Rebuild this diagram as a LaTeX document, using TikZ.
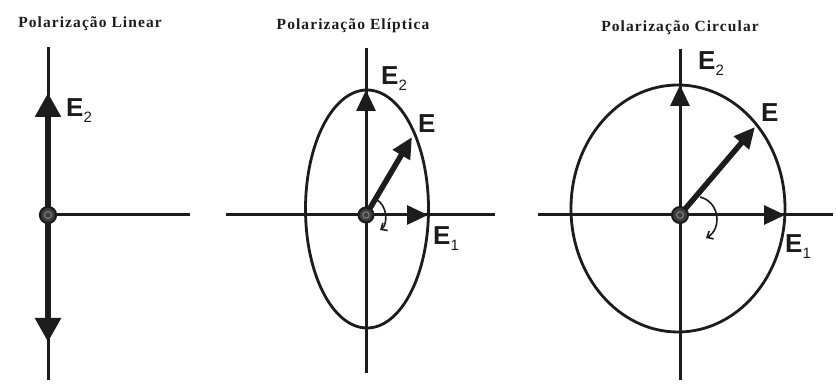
\documentclass[tikz,border=0pt]{standalone}
\usepackage{fontspec}
\usetikzlibrary{arrows.meta}
\newfontfamily\titlefont[LetterSpace=7]{Liberation Serif}
\newfontfamily\labelfont{Liberation Sans}
\definecolor{ink}{RGB}{28,28,28}
\newcommand{\esub}[1]{\raisebox{-6pt}{\fontsize{15}{15}\selectfont\mdseries #1}}

\begin{document}
\begin{tikzpicture}[x=1pt, y=1pt,
  axis/.style={draw=ink, line width=3pt},
  vec/.style={draw=ink, line width=5.5pt},
  ellip/.style={draw=ink, line width=2.8pt},
  bigtip/.style={-{Triangle[length=24pt, width=25pt]}},
  midtip/.style={-{Triangle[length=21pt, width=19pt]}},
  turn/.style={draw=ink, line width=1.6pt, -{Straight Barb[length=5pt, width=9pt]}},
  orig/.style={fill=ink!85, draw=ink, line width=2pt},
  elabel/.style={font=\labelfont\bfseries\fontsize{26}{26}\selectfont, text=ink, inner sep=0pt, anchor=base west},
  ttl/.style={font=\titlefont\bfseries\fontsize{15.5}{15.5}\selectfont, text=ink, inner sep=0pt, anchor=base}]
  \fill[white] (0,0) rectangle (836,387);
  \useasboundingbox (0,0) rectangle (836,387);

  % --- linear ---
  \coordinate (O1) at (48,172);
  \coordinate (V1t) at (48,340);
  \coordinate (V1b) at (48,7);
  \coordinate (H1r) at (190,172);
  \coordinate (U1) at (48,294);   % E2 up
  \coordinate (D1) at (48,45);    % E2 down
  \draw[axis] (V1t) -- (V1b);
  \draw[axis] (O1) -- (H1r);
  \draw[vec, bigtip] (O1) -- (U1);
  \draw[vec, bigtip] (O1) -- (D1);
  \filldraw[orig, line width=2.2pt] (O1) circle (8pt);
  \draw[ink!55, line width=1pt] (O1) circle (3.5pt);
  \node[ttl] (t1) at (90,359) {Polarização Linear};
  \node[elabel] (e2a) at (66,270) {E\esub{2}};

  % --- eliptica ---
  \coordinate (O2) at (366,172);
  \coordinate (C2) at (367,178);  % centro da elipse
  \coordinate (V2t) at (366,339);
  \coordinate (V2b) at (366,14);
  \coordinate (H2l) at (226,172);
  \coordinate (H2r) at (495,172);
  \coordinate (A2) at (366,297);  % E2
  \coordinate (B2) at (428,172);  % E1
  \coordinate (E2) at (412,250);  % E
  \coordinate (S2) at (375,188);
  \coordinate (T2) at (380,157);
  \draw[ellip] (C2) ellipse [x radius=61.5, y radius=119];
  \draw[axis] (V2t) -- (V2b);
  \draw[axis] (H2l) -- (H2r);
  \draw[axis, midtip] (O2) -- (A2);
  \draw[axis, midtip] (O2) -- (B2);
  \draw[vec, midtip] (O2) -- (E2);
  \draw[turn] (S2) .. controls (388,183) and (388,162) .. (T2);
  \filldraw[orig] (O2) circle (7.5pt);
  \draw[ink!55, line width=1pt] (O2) circle (3.2pt);
  \node[ttl] (t2) at (353,357) {Polarização Elíptica};
  \node[elabel] (e2b) at (381,302) {E\esub{2}};
  \node[elabel] (eb) at (418,254) {E};
  \node[elabel] (e1b) at (433,142) {E\esub{1}};

  % --- circular ---
  \coordinate (O3) at (680,172);
  \coordinate (C3) at (678,178.5);
  \coordinate (V3t) at (680,338);
  \coordinate (V3b) at (680,7);
  \coordinate (H3l) at (538,172);
  \coordinate (H3r) at (833,172);
  \coordinate (A3) at (680,302);
  \coordinate (B3) at (785,172);
  \coordinate (E3) at (755,260);
  \coordinate (S3) at (700,190);
  \coordinate (T3) at (706,149);
  \draw[ellip] (C3) ellipse [x radius=107, y radius=123.5];
  \draw[axis] (V3t) -- (V3b);
  \draw[axis] (H3l) -- (H3r);
  \draw[axis, midtip] (O3) -- (A3);
  \draw[axis, midtip] (O3) -- (B3);
  \draw[vec, midtip] (O3) -- (E3);
  \draw[turn] (S3) .. controls (720,185) and (722,158) .. (T3);
  \filldraw[orig] (O3) circle (8pt);
  \draw[ink!55, line width=1pt] (O3) circle (3.4pt);
  \node[ttl] (t3) at (680,355) {Polarização Circular};
  \node[elabel] (e2c) at (698,317) {E\esub{2}};
  \node[elabel] (ec) at (761,265) {E};
  \node[elabel] (e1c) at (785,134) {E\esub{1}};
\end{tikzpicture}
\end{document}
